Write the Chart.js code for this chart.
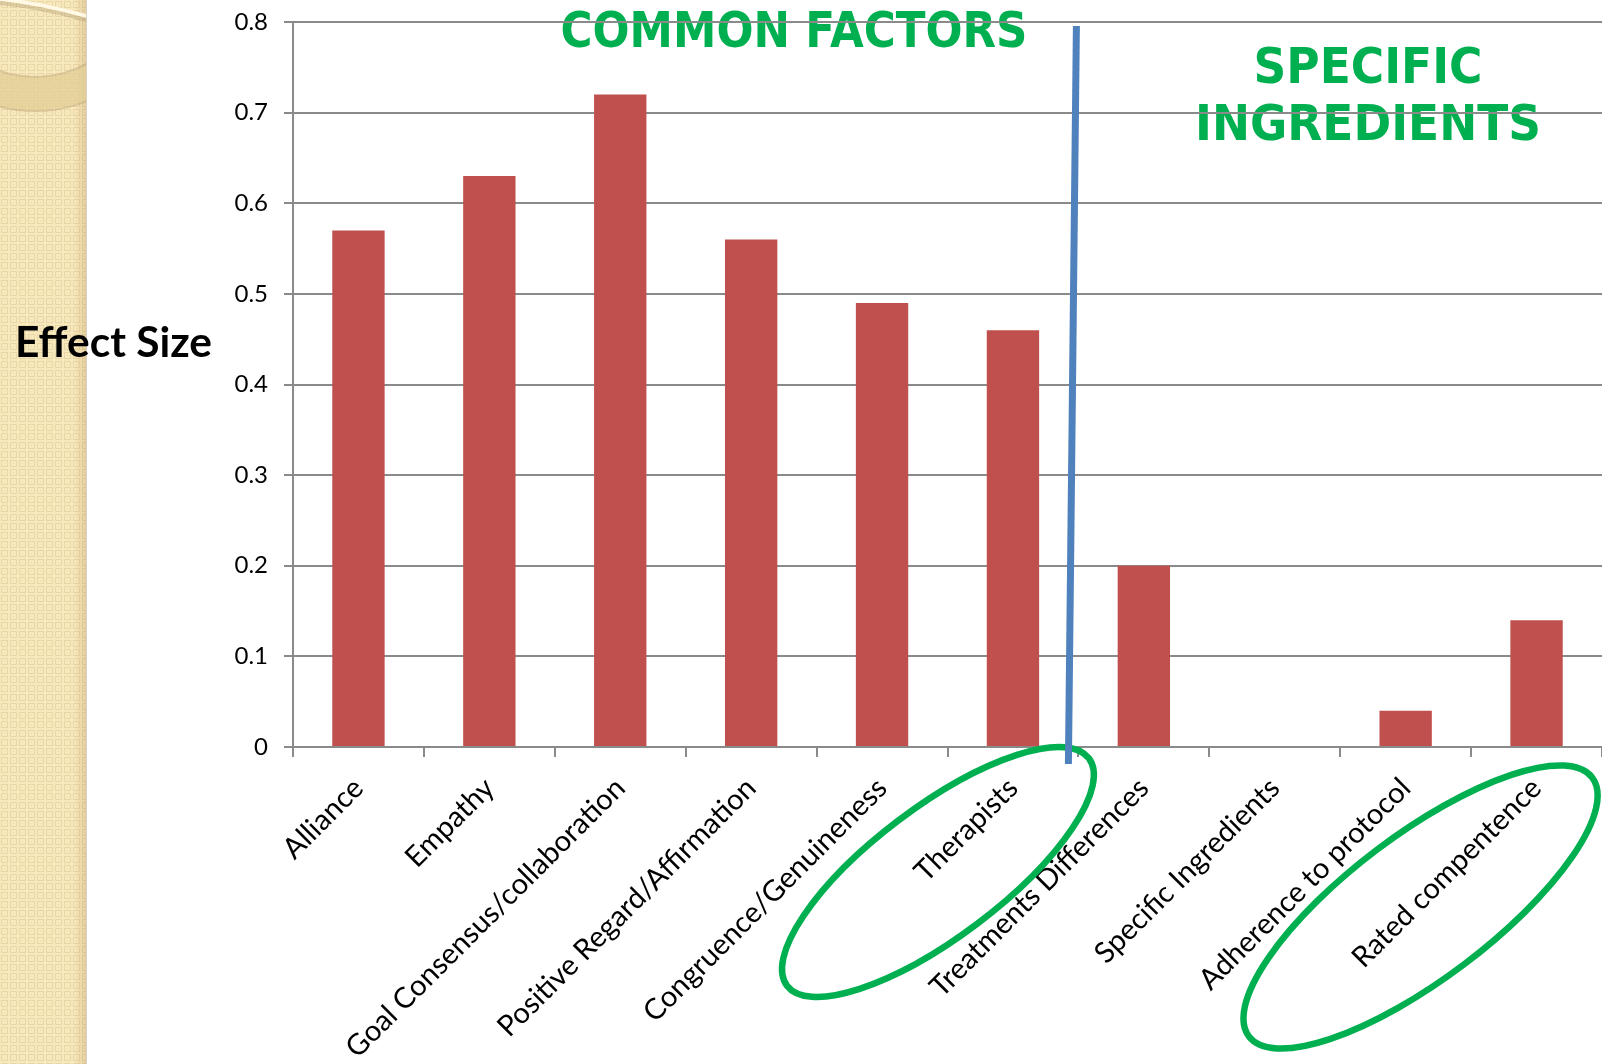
<!DOCTYPE html>
<html>
<head>
<meta charset="utf-8">
<title>Effect Size</title>
<script src="https://cdn.jsdelivr.net/npm/chart.js@4.4.0/dist/chart.umd.min.js"></script>
<style>
  html, body { margin: 0; padding: 0; background: #fff; }
  #wrap { position: relative; width: 1602px; height: 1064px; }
</style>
</head>
<body>
<div id="wrap"><canvas id="effectChart"></canvas></div>
<script>
const categories = [
  'Alliance', 'Empathy', 'Goal Consensus/collaboration', 'Positive Regard/Affirmation',
  'Congruence/Genuineness', 'Therapists', 'Treatments Differences', 'Specific Ingredients',
  'Adherence to protocol', 'Rated compentence'
];
const effectSizes = [0.57, 0.63, 0.72, 0.56, 0.49, 0.46, 0.20, 0, 0.04, 0.14];
const yTickLabels = ['0', '0.1', '0.2', '0.3', '0.4', '0.5', '0.6', '0.7', '0.8'];
const yAxisTitle = 'Effect Size';
const leftGroupTitle = 'COMMON FACTORS';
const rightGroupTitle = ['SPECIFIC', 'INGREDIENTS'];
const circledCategories = ['Therapists', 'Rated compentence'];

const GREEN = '#00B050';
const GRID = '#8a8a8a';

// small tile for the beige slide stripe on the left
function makeStripePattern(ctx) {
  const tile = document.createElement('canvas');
  tile.width = 9; tile.height = 9;
  const t = tile.getContext('2d');
  t.fillStyle = '#F8E8BD';
  t.fillRect(0, 0, 9, 9);
  t.strokeStyle = 'rgba(205,180,120,0.35)';
  t.lineWidth = 1;
  t.strokeRect(1.5, 1.5, 6, 6);
  t.fillStyle = 'rgba(215,190,135,0.3)';
  t.fillRect(4, 4, 1, 1);
  return ctx.createPattern(tile, 'repeat');
}

// draw text squeezed/stretched to a given width
function fitText(ctx, text, x, baseline, width, font, align) {
  ctx.save();
  ctx.font = font;
  const w = ctx.measureText(text).width;
  ctx.translate(x, baseline);
  ctx.scale(width / w, 1);
  ctx.textAlign = align || 'center';
  ctx.textBaseline = 'alphabetic';
  ctx.fillText(text, 0, 0);
  ctx.restore();
}

const backdropPlugin = {
  id: 'backdrop',
  beforeDraw(chart) {
    const ctx = chart.ctx;
    const W = chart.width, H = chart.height;
    ctx.save();
    ctx.fillStyle = '#fff';
    ctx.fillRect(0, 0, W, H);

    // left beige stripe
    const stripeW = 86;
    ctx.fillStyle = makeStripePattern(ctx);
    ctx.fillRect(0, 0, stripeW, H);
    const shade = ctx.createLinearGradient(74, 0, stripeW, 0);
    shade.addColorStop(0, 'rgba(190,160,100,0)');
    shade.addColorStop(1, 'rgba(190,160,100,0.35)');
    ctx.fillStyle = shade;
    ctx.fillRect(74, 0, stripeW - 74, H);
    ctx.fillStyle = '#d9d2c4';
    ctx.fillRect(stripeW, 0, 1, H);

    // ring decoration at the top of the stripe
    ctx.beginPath();
    ctx.rect(0, 0, stripeW, 140);
    ctx.clip();
    ctx.beginPath();
    ctx.arc(35, -30, 140, 0, Math.PI * 2);
    ctx.arc(35, -30, 108, 0, Math.PI * 2, true);
    ctx.fillStyle = 'rgba(226,206,150,0.75)';
    ctx.fill();
    ctx.lineWidth = 2;
    ctx.strokeStyle = 'rgba(185,160,110,0.45)';
    ctx.beginPath();
    ctx.arc(35, -30, 141, 0, Math.PI * 2);
    ctx.stroke();
    ctx.beginPath();
    ctx.arc(35, -30, 107, 0, Math.PI * 2);
    ctx.stroke();
    ctx.lineWidth = 4;
    ctx.strokeStyle = 'rgba(170,150,110,0.35)';
    ctx.beginPath();
    ctx.moveTo(0, 3);
    ctx.quadraticCurveTo(40, 7, 90, 21);
    ctx.stroke();
    ctx.strokeStyle = '#FFF9E6';
    ctx.lineWidth = 3.5;
    ctx.beginPath();
    ctx.moveTo(0, -1);
    ctx.quadraticCurveTo(40, 3, 90, 17);
    ctx.stroke();
    ctx.restore();

    // group titles sit underneath the gridlines
    ctx.save();
    ctx.fillStyle = GREEN;
    fitText(ctx, leftGroupTitle, 794, 46.5, 467, 'bold 49px "DejaVu Sans"');
    fitText(ctx, rightGroupTitle[0], 1368, 82.5, 229, 'bold 49px "DejaVu Sans"');
    fitText(ctx, rightGroupTitle[1], 1368, 139.5, 346, 'bold 49px "DejaVu Sans"');
    ctx.fillStyle = '#000';
    fitText(ctx, yAxisTitle, 15, 357, 197, 'bold 42px Lato', 'left');
    ctx.restore();
  },
  afterDraw(chart) {
    const ctx = chart.ctx;
    const x = chart.scales.x, y = chart.scales.y;
    ctx.save();

    // ellipses around the circled categories
    ctx.strokeStyle = GREEN;
    ctx.lineWidth = 6.5;
    const rings = [
      { dx: -75, dy: 125, a: 189, b: 65 },
      { dx: -116, dy: 160, a: 215, b: 72 }
    ];
    circledCategories.forEach((name, i) => {
      const r = rings[i];
      const cx = x.getPixelForValue(categories.indexOf(name)) + r.dx;
      const cy = y.bottom + r.dy;
      ctx.beginPath();
      ctx.ellipse(cx, cy, r.a, r.b, -37 * Math.PI / 180, 0, Math.PI * 2);
      ctx.stroke();
    });

    // divider between common factors and specific ingredients
    const split = (x.getPixelForValue(5) + x.getPixelForValue(6)) / 2;
    ctx.strokeStyle = '#4F81BD';
    ctx.lineWidth = 7;
    ctx.beginPath();
    ctx.moveTo(split - 2, y.getPixelForValue(0.8) + 4);
    ctx.lineTo(split - 10, y.bottom + 17);
    ctx.stroke();
    ctx.restore();
  }
};

const ctx = document.getElementById('effectChart').getContext('2d');
new Chart(ctx, {
  type: 'bar',
  data: {
    labels: categories,
    datasets: [{
      data: effectSizes,
      backgroundColor: '#C0504D',
      borderWidth: 0,
      barPercentage: 0.4,
      categoryPercentage: 1
    }]
  },
  options: {
    responsive: true,
    maintainAspectRatio: false,
    animation: false,
    layout: { padding: { top: 22, left: 0, right: 0, bottom: 0 } },
    plugins: { legend: { display: false }, tooltip: { enabled: false } },
    scales: {
      x: {
        offset: true,
        grid: { display: true, drawOnChartArea: false, drawTicks: true, tickLength: 10, color: GRID, lineWidth: 2, offset: true },
        border: { display: true, color: GRID, width: 2 },
        ticks: {
          autoSkip: false, minRotation: 45, maxRotation: 45, padding: 14,
          color: '#000', font: { family: 'Lato', size: 29 }
        },
        afterFit: s => { s.height = 317; }
      },
      y: {
        min: 0,
        max: 0.8,
        ticks: {
          stepSize: 0.1, padding: 16, color: '#000',
          font: { family: 'Lato', size: 24 },
          callback: v => yTickLabels[Math.round(v * 10)]
        },
        grid: { color: GRID, lineWidth: 2, tickLength: 9 },
        border: { display: true, color: GRID, width: 2 },
        afterFit: s => { s.width = 293; s.paddingTop = 0; s.paddingBottom = 0; }
      }
    }
  },
  plugins: [backdropPlugin]
});
</script>
</body>
</html>
